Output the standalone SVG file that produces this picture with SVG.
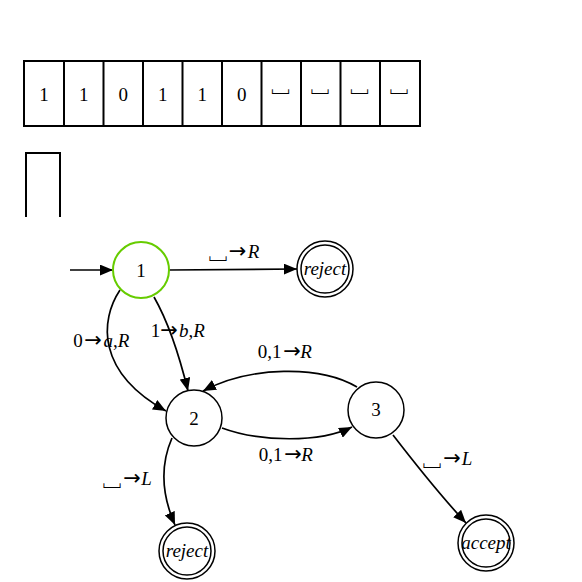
<svg xmlns="http://www.w3.org/2000/svg" width="582" height="582" viewBox="0 0 582 582">
<style>
.cell{fill:#fff;stroke:#000;stroke-width:2}
.t{font-family:"Liberation Serif","Times New Roman",serif;font-size:19px;fill:#000}
.c{text-anchor:middle}
.i{font-style:italic}
.ar{font-family:"DejaVu Sans",sans-serif;font-size:21px}
.bl{font-family:"Noto Sans CJK JP","DejaVu Sans",sans-serif;font-size:23px}
.st{fill:#fff;stroke:#000;stroke-width:1.5}
.e{fill:none;stroke:#000;stroke-width:1.7}
</style>
<defs>
<marker id="ah" viewBox="0 0 12 10" refX="12" refY="5" markerWidth="13" markerHeight="11" markerUnits="userSpaceOnUse" orient="auto">
<path d="M0,0 L12,5 L0,10 z" fill="#000"/>
</marker>
</defs>
<g id="tape">
<rect class="cell" x="24" y="61" width="396" height="65"/>
<path d="M64,61V126M103.5,61V126M143,61V126M182.5,61V126M222,61V126M261.5,61V126M301,61V126M340.5,61V126M380,61V126" stroke="#000" stroke-width="2"/>
<text class="t c" x="44" y="101">1</text>
<text class="t c" x="83.75" y="101">1</text>
<text class="t c" x="123.25" y="101">0</text>
<text class="t c" x="162.75" y="101">1</text>
<text class="t c" x="202.25" y="101">1</text>
<text class="t c" x="241.75" y="101">0</text>
<text class="t c bl" x="280.5" y="91">␣</text>
<text class="t c bl" x="320" y="91">␣</text>
<text class="t c bl" x="359.5" y="91">␣</text>
<text class="t c bl" x="399" y="91">␣</text>
</g>
<g id="head">
<path d="M26,217V153H60V217" fill="none" stroke="#000" stroke-width="2"/>
</g>
<g id="connectors">
<line class="e" x1="70" y1="270" x2="113" y2="270" marker-end="url(#ah)"/>
<line class="e" x1="169" y1="270" x2="297" y2="269" marker-end="url(#ah)"/>
<path class="e" d="M120,290 C100,320 96,372 166,411" marker-end="url(#ah)"/>
<path class="e" d="M154,297 C166,318 178,350 188,391" marker-end="url(#ah)"/>
<path class="e" d="M357,387 C320,365 250,366 203,391" marker-end="url(#ah)"/>
<path class="e" d="M222,428 C260,442 320,443 352,427" marker-end="url(#ah)"/>
<path class="e" d="M172,438 C158,470 164,500 175,525" marker-end="url(#ah)"/>
<path class="e" d="M393,435 C420,470 440,495 466,523" marker-end="url(#ah)"/>
</g>
<g id="labels">
<text class="t c" y="258"><tspan class="bl" x="218">␣</tspan><tspan class="ar" x="237.5">→</tspan><tspan class="i" x="253.5">R</tspan></text>
<text class="t c" y="347"><tspan x="78">0</tspan><tspan class="ar" x="93">→</tspan><tspan x="116.5"><tspan class="i">a</tspan>,<tspan class="i">R</tspan></tspan></text>
<text class="t c" y="337"><tspan x="155.5">1</tspan><tspan class="ar" x="169">→</tspan><tspan x="192"><tspan class="i">b</tspan>,<tspan class="i">R</tspan></tspan></text>
<text class="t c" y="358"><tspan x="269.5">0,1</tspan><tspan class="ar" x="292">→</tspan><tspan class="i" x="306">R</tspan></text>
<text class="t c" y="461"><tspan x="270.5">0,1</tspan><tspan class="ar" x="293">→</tspan><tspan class="i" x="307">R</tspan></text>
<text class="t c" y="485"><tspan class="bl" x="112">␣</tspan><tspan class="ar" x="132">→</tspan><tspan class="i" x="146.5">L</tspan></text>
<text class="t c" y="465"><tspan class="bl" x="432">␣</tspan><tspan class="ar" x="452">→</tspan><tspan class="i" x="467">L</tspan></text>
</g>
<g id="n1">
<circle cx="141" cy="270" r="28" fill="#fff" stroke="#66cc00" stroke-width="2"/>
<text class="t c" x="141" y="277">1</text>
</g>
<g id="reject1">
<circle class="st" cx="325" cy="269" r="28"/>
<circle class="st" cx="325" cy="269" r="24"/>
<text class="t c i" x="325" y="275">reject</text>
</g>
<g id="n2">
<circle class="st" cx="194" cy="418" r="28"/>
<text class="t c" x="194" y="425">2</text>
</g>
<g id="n3">
<circle class="st" cx="376" cy="410" r="28"/>
<text class="t c" x="376" y="416">3</text>
</g>
<g id="reject2">
<circle class="st" cx="187" cy="551" r="28"/>
<circle class="st" cx="187" cy="551" r="24"/>
<text class="t c i" x="187" y="557">reject</text>
</g>
<g id="accept">
<circle class="st" cx="486" cy="543" r="28"/>
<circle class="st" cx="486" cy="543" r="24"/>
<text class="t c i" x="486" y="549">accept</text>
</g>
</svg>
